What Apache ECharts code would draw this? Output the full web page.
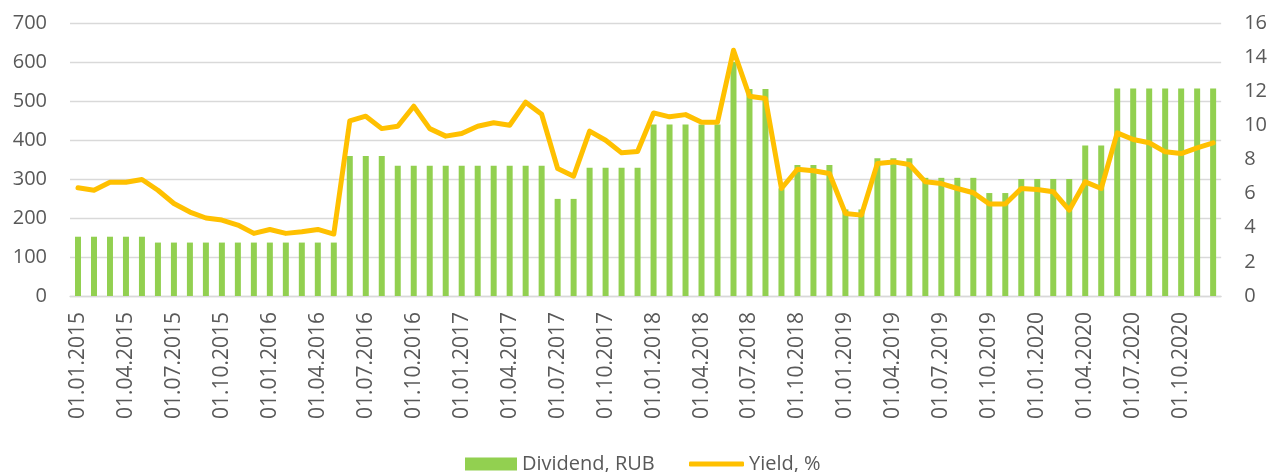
<!DOCTYPE html>
<html>
<head>
<meta charset="utf-8">
<title>Dividend and yield</title>
<script src="https://cdn.jsdelivr.net/npm/echarts@6/dist/echarts.min.js"></script>
<style>
  html, body { margin: 0; padding: 0; background: #fff; }
  #chart { width: 1270px; height: 472px; }
</style>
</head>
<body>
<div id="chart"></div>
<script>
  // months shown on the category axis, Jan 2015 .. Dec 2020
  var years = [2015, 2016, 2017, 2018, 2019, 2020];
  var months = ['01', '02', '03', '04', '05', '06', '07', '08', '09', '10', '11', '12'];
  var categories = [];
  years.forEach(function (y) {
    months.forEach(function (m) {
      categories.push('01.' + m + '.' + y);
    });
  });

  // Dividend, RUB (left axis)
  var dividend = [
    152, 152, 152, 152, 152, 137, 137, 137, 137, 137, 137, 137,
    137, 137, 137, 137, 137, 359, 359, 359, 334, 334, 334, 334,
    334, 334, 334, 334, 334, 334, 249, 249, 329, 329, 329, 329,
    440, 440, 440, 440, 440, 600, 531, 531, 276, 336, 336, 336,
    222, 222, 353, 353, 353, 303, 303, 303, 303, 264, 264, 300,
    300, 300, 300, 386, 386, 532, 532, 532, 532, 532, 532, 532
  ];

  // Yield, % (right axis)
  var yieldPct = [
    6.34, 6.20, 6.67, 6.67, 6.83, 6.20, 5.42, 4.92, 4.57, 4.45, 4.16, 3.67,
    3.90, 3.67, 3.77, 3.90, 3.63, 10.26, 10.54, 9.81, 9.95, 11.12, 9.81, 9.37,
    9.52, 9.95, 10.15, 10.01, 11.36, 10.65, 7.47, 7.02, 9.66, 9.13, 8.39, 8.47,
    10.73, 10.50, 10.63, 10.18, 10.18, 14.40, 11.71, 11.57, 6.30, 7.43, 7.34, 7.18,
    4.84, 4.74, 7.77, 7.86, 7.71, 6.69, 6.59, 6.30, 6.05, 5.39, 5.39, 6.30,
    6.24, 6.11, 5.03, 6.69, 6.30, 9.56, 9.17, 8.98, 8.45, 8.35, 8.68, 8.98
  ];

  var txt = '#595959';
  var gridCol = '#d9d9d9';
  var font = 'Open Sans';

  var myChart = echarts.init(document.getElementById('chart'));
  myChart.setOption({
    animation: false,
    textStyle: {fontFamily: font, color: txt},
    grid: {left: 70, right: 48, top: 23, bottom: 176},
    legend: [
      {
        data: ['Dividend, RUB'],
        left: 460, top: 449,
        itemWidth: 52, itemHeight: 13,
        icon: 'rect',
        textStyle: {fontFamily: font, fontSize: 20, color: txt}
      },
      {
        data: ['Yield, %'],
        left: 684, top: 449,
        itemWidth: 55, itemHeight: 5,
        icon: 'roundRect',
        textStyle: {fontFamily: font, fontSize: 20, color: txt}
      }
    ],
    xAxis: {
      type: 'category',
      data: categories,
      boundaryGap: true,
      axisLine: {lineStyle: {color: gridCol, width: 1.3}},
      axisTick: {interval: 2, length: 7, lineStyle: {color: gridCol, width: 1.3}},
      axisLabel: {
        interval: 2,
        rotate: 90,
        margin: 16,
        fontFamily: font,
        fontSize: 21,
        color: txt
      }
    },
    yAxis: [
      {
        type: 'value',
        min: 0, max: 700, interval: 100,
        axisLine: {show: false},
        axisTick: {show: false},
        splitLine: {lineStyle: {color: gridCol, width: 1.3}},
        axisLabel: {margin: 23, fontFamily: font, fontSize: 20, color: txt}
      },
      {
        type: 'value',
        min: 0, max: 16, interval: 2,
        position: 'right',
        axisLine: {show: false},
        axisTick: {show: false},
        splitLine: {show: false},
        axisLabel: {margin: 23, fontFamily: font, fontSize: 20, color: txt}
      }
    ],
    series: [
      {
        name: 'Dividend, RUB',
        type: 'bar',
        data: dividend,
        barWidth: 6,
        itemStyle: {color: '#92d050'}
      },
      {
        name: 'Yield, %',
        type: 'line',
        yAxisIndex: 1,
        data: yieldPct,
        symbol: 'none',
        itemStyle: {color: '#ffc000'},
        lineStyle: {color: '#ffc000', width: 5, join: 'round', cap: 'round'},
        z: 3
      }
    ]
  });
</script>
</body>
</html>
